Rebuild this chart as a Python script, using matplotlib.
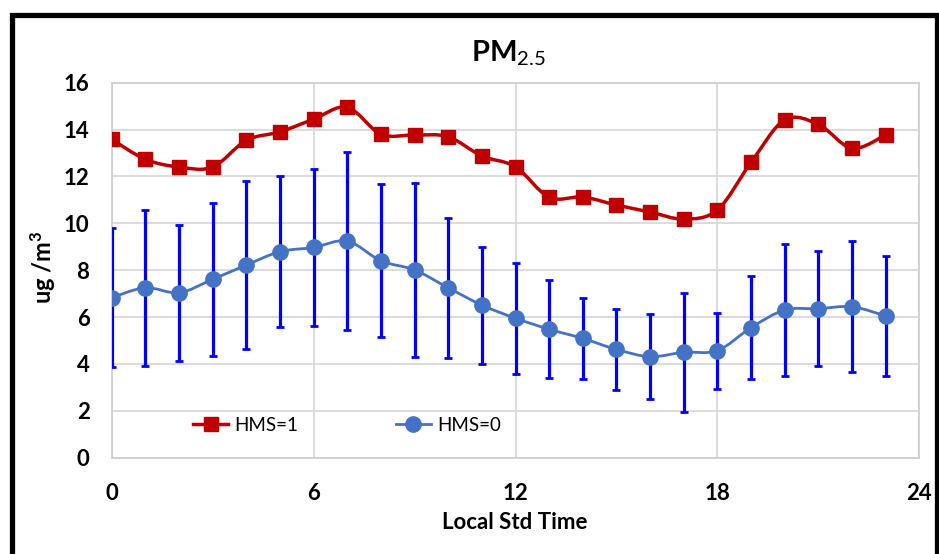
import numpy as np
import matplotlib
matplotlib.use("Agg")
import matplotlib.pyplot as plt
from matplotlib.path import Path
from matplotlib.patches import PathPatch, Rectangle
from matplotlib.lines import Line2D

plt.rcParams['font.family'] = ['Lato', 'DejaVu Sans']
plt.rcParams['mathtext.fontset'] = 'custom'
plt.rcParams['mathtext.rm'] = 'Lato'
plt.rcParams['mathtext.bf'] = 'Lato:bold'
plt.rcParams['mathtext.it'] = 'Lato:italic'

# ---- data ----
hours = list(range(24))
hms1 = [13.58, 12.73, 12.40, 12.40, 13.54, 13.90, 14.44, 14.95, 13.80, 13.77,
        13.69, 12.87, 12.41, 11.11, 11.12, 10.78, 10.48, 10.18, 10.57, 12.60,
        14.41, 14.22, 13.20, 13.77]
hms0 = [6.83, 7.25, 7.04, 7.61, 8.22, 8.79, 8.97, 9.24, 8.40, 8.01,
        7.25, 6.51, 5.95, 5.48, 5.09, 4.62, 4.31, 4.50, 4.57, 5.55,
        6.30, 6.36, 6.44, 6.05]
hms0_err = [2.96, 3.32, 2.90, 3.25, 3.58, 3.22, 3.36, 3.80, 3.26, 3.72,
            2.98, 2.50, 2.36, 2.10, 1.72, 1.72, 1.80, 2.53, 1.62, 2.19,
            2.82, 2.46, 2.80, 2.55]
xticks = [0, 6, 12, 18, 24]
yticks = list(range(0, 17, 2))
title = r"PM$_{2.5}$"
xlabel = "Local Std Time"
ylabel = r"ug /m$^{\mathbf{3}}$"
labels = ["HMS=1", "HMS=0"]

RED = "#C00000"
BLUE = "#4472C4"
EBLUE = "#0000FF"


def smooth_path(x, y, t=1.0 / 6.0):
    x = np.asarray(x, float)
    y = np.asarray(y, float)
    pts = np.column_stack([x, y])
    n = len(pts)
    verts = [pts[0]]
    codes = [Path.MOVETO]
    for i in range(n - 1):
        p0 = pts[i - 1] if i > 0 else pts[i]
        p1 = pts[i]
        p2 = pts[i + 1]
        p3 = pts[i + 2] if i + 2 < n else pts[i + 1]
        c1 = p1 + (p2 - p0) * t
        c2 = p2 - (p3 - p1) * t
        verts += [c1, c2, p2]
        codes += [Path.CURVE4] * 3
    return Path(verts, codes)


fig = plt.figure(figsize=(9.39, 5.54), dpi=100)
ax = fig.add_axes([0.119, 0.1738, 0.860, 0.677])

ax.set_xlim(0, 24)
ax.set_ylim(0, 16)
ax.set_xticks(xticks)
ax.set_yticks(yticks)
ax.grid(True, color="#d9d9d9", lw=1.3)
ax.set_axisbelow(True)
for s in ax.spines.values():
    s.set_color("#d0d0d0")
    s.set_linewidth(1.3)
ax.tick_params(length=0, labelsize=16, pad=16)
for lab in ax.get_xticklabels() + ax.get_yticklabels():
    lab.set_fontweight("bold")
ax.tick_params(axis='x', pad=18)

# error bars
ax.errorbar(hours, hms0, yerr=hms0_err, fmt='none', ecolor=EBLUE,
            elinewidth=2.3, capsize=2.8, capthick=2.0, zorder=3)

# HMS=0 smooth line + markers
ax.add_patch(PathPatch(smooth_path(hours, hms0), fill=False, ec=BLUE,
                       lw=2.0, zorder=4))
ax.plot(hours, hms0, ls='none', marker='o', ms=11, color=BLUE, zorder=5)

# HMS=1 smooth line + markers
ax.add_patch(PathPatch(smooth_path(hours, hms1), fill=False, ec=RED,
                       lw=2.5, zorder=6))
ax.plot(hours, hms1, ls='none', marker='s', ms=10, color=RED, zorder=7)

handles = [Line2D([], [], color=RED, lw=2.5, marker='s', ms=10),
           Line2D([], [], color=BLUE, lw=2.0, marker='o', ms=11)]
ax.legend(handles, labels, ncol=2, frameon=False, fontsize=13.5,
          loc='center', bbox_to_anchor=(0.291, 0.087),
          handlelength=1.9, handletextpad=0.3, columnspacing=5.2)

fig.text(508 / 939, 1 - 61.7 / 554, title, ha='center', va='baseline',
         fontsize=21, fontweight='bold')
ax.set_xlabel(xlabel, fontsize=16, fontweight='bold', va='center')
ax.xaxis.set_label_coords(0.4988, -0.174)
ax.set_ylabel(ylabel, fontsize=17, fontweight='bold', va='center')
ax.yaxis.set_label_coords(-0.0863, 0.509)

fig.patches.append(Rectangle((0.0133, -0.1), 0.9975 - 0.0133, 0.9735 + 0.1,
                             transform=fig.transFigure, fill=False,
                             lw=3.8, ec='black'))

fig.savefig("out.png", dpi=100)
